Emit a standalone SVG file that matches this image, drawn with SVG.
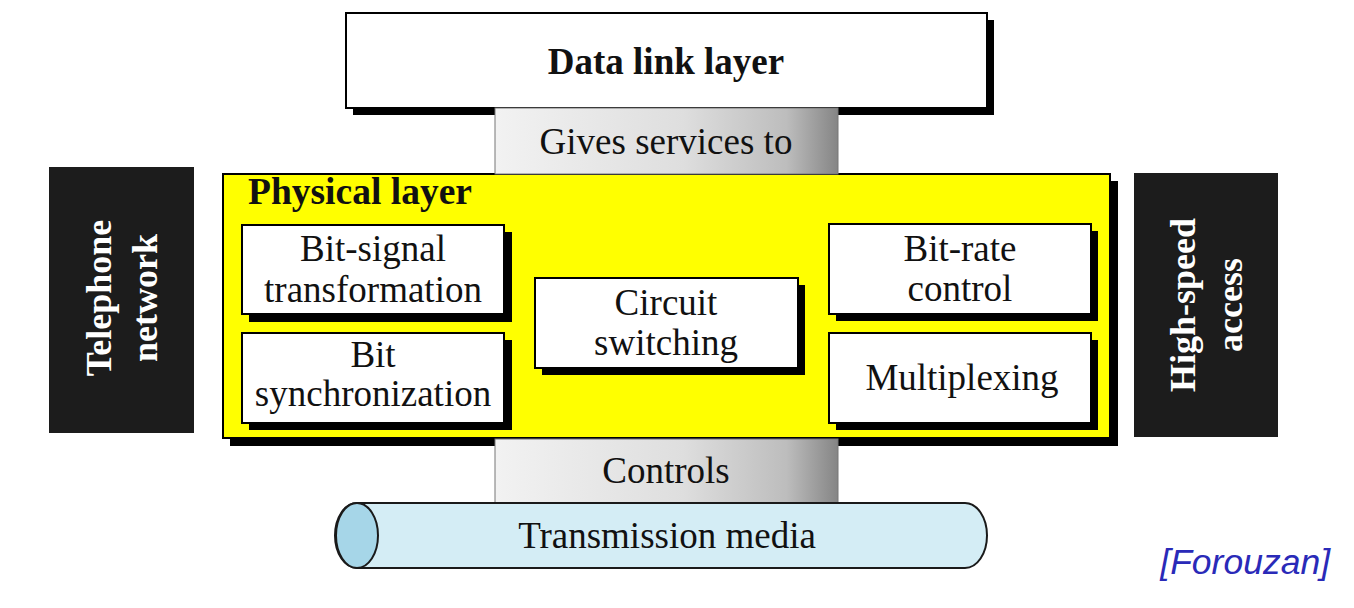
<svg xmlns="http://www.w3.org/2000/svg" width="1354" height="608" viewBox="0 0 1354 608">
<defs>
<linearGradient id="gray" x1="0" y1="0" x2="1" y2="0">
<stop offset="0" stop-color="#f2f2f2"/>
<stop offset="0.55" stop-color="#dedede"/>
<stop offset="0.85" stop-color="#bdbdbd"/>
<stop offset="1" stop-color="#858585"/>
</linearGradient>
<style>
.t{font-family:"Liberation Serif","Times New Roman",serif;font-size:37px;fill:#111;text-anchor:middle}
.b{font-weight:bold}
.w{fill:#fff;font-size:36px}
.box{fill:#fff;stroke:#000;stroke-width:2}
.sh{fill:#000}
.gr{fill:url(#gray);stroke:#777;stroke-width:1}
.blk{fill:#1c1c1c}
</style>
</defs>
<rect width="1354" height="608" fill="#fff"/>

<g id="datalink">
<rect class="sh" x="353" y="20" width="641" height="95"/>
<rect class="box" x="346" y="13" width="641" height="95"/>
<text class="t b" x="666" y="74">Data link layer</text>
</g>

<g id="telephone">
<rect class="blk" x="49" y="167" width="145" height="266"/>
<text class="t b w" transform="translate(111,298) rotate(-90)">Telephone</text>
<text class="t b w" transform="translate(157,298) rotate(-90)">network</text>
</g>

<g id="highspeed">
<rect class="blk" x="1134" y="173" width="144" height="264"/>
<text class="t b w" transform="translate(1195,305) rotate(-90)">High-speed</text>
<text class="t b w" transform="translate(1242,305) rotate(-90)">access</text>
</g>

<g id="physical">
<rect class="sh" x="230" y="181" width="888" height="265"/>
<rect x="223" y="174" width="887" height="264" fill="#ffff00" stroke="#000" stroke-width="2"/>
<text class="t b" x="248" y="204" style="text-anchor:start;font-size:37.5px">Physical layer</text>
</g>

<g id="connectors">
<g id="gives">
<rect class="gr" x="495" y="108" width="343" height="66"/>
<text class="t" x="666" y="154">Gives services to</text>
</g>
<g id="controls">
<rect class="gr" x="495" y="439" width="343" height="64"/>
<text class="t" x="666" y="483">Controls</text>
</g>
</g>

<g id="bitsignal">
<rect class="sh" x="249" y="232" width="263" height="90"/>
<rect class="box" x="242" y="225" width="262" height="89"/>
<text class="t" x="373" y="261">Bit-signal</text>
<text class="t" x="373" y="302">transformation</text>
</g>

<g id="bitsync">
<rect class="sh" x="249" y="340" width="263" height="90"/>
<rect class="box" x="242" y="333" width="262" height="90"/>
<text class="t" x="373" y="367">Bit</text>
<text class="t" x="373" y="406">synchronization</text>
</g>

<g id="circuit">
<rect class="sh" x="542" y="285" width="263" height="90"/>
<rect class="box" x="535" y="278" width="263" height="90"/>
<text class="t" x="666" y="315">Circuit</text>
<text class="t" x="666" y="355">switching</text>
</g>

<g id="bitrate">
<rect class="sh" x="836" y="231" width="262" height="90"/>
<rect class="box" x="829" y="224" width="262" height="90"/>
<text class="t" x="960" y="261">Bit-rate</text>
<text class="t" x="960" y="301">control</text>
</g>

<g id="multiplexing">
<rect class="sh" x="836" y="340" width="262" height="90"/>
<rect class="box" x="829" y="333" width="262" height="90"/>
<text class="t" x="962" y="390">Multiplexing</text>
</g>

<g id="media">
<path d="M357,503 H965 A22,32.5 0 0 1 965,568 H357 A22,32.5 0 0 1 357,503 Z" fill="#d4edf5" stroke="#1a1a1a" stroke-width="2"/>
<ellipse cx="357" cy="535.5" rx="21" ry="32.5" fill="#a6d6e8" stroke="#1a1a1a" stroke-width="2"/>
<text class="t" x="667" y="548">Transmission media</text>
</g>

<text x="1330" y="574" font-family="Liberation Sans, Arial, sans-serif" font-style="italic" font-size="35.5" fill="#2a2ab8" text-anchor="end">[Forouzan]</text>
</svg>
